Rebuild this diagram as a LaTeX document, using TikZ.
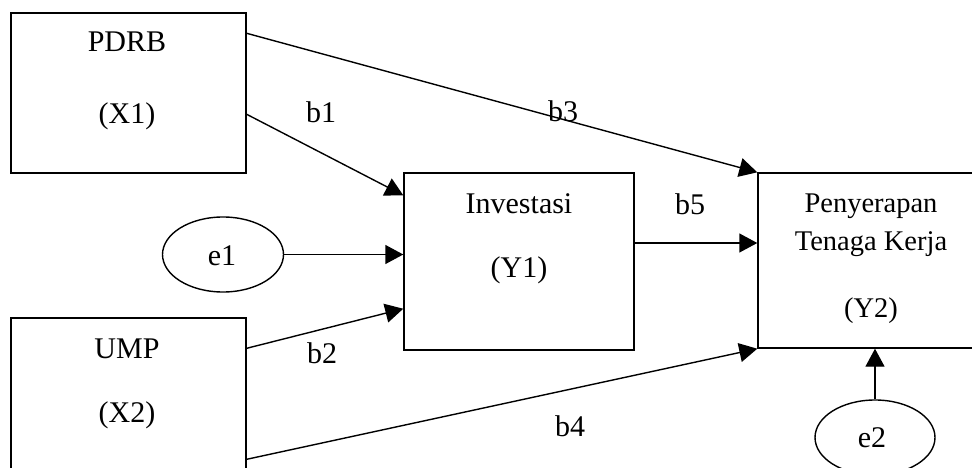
\documentclass[tikz,border=0pt]{standalone}
\usepackage{fontspec}
\setmainfont{Liberation Serif}
\usetikzlibrary{arrows.meta,shapes.geometric,calc}
\begin{document}
\begin{tikzpicture}[x=1pt,y=-1pt,
  box/.style={draw,line width=1.4pt,rectangle,inner sep=0pt},
  oval/.style={draw,line width=1.4pt,ellipse,inner sep=0pt},
  txt/.style={anchor=base,inner sep=0pt,font=\fontsize{30}{36}\selectfont},
  stxt/.style={anchor=base,inner sep=0pt,font=\fontsize{28.5}{34}\selectfont},
  arr/.style={line width=1.4pt,-{Triangle[length=18pt,width=19pt]}}]
\useasboundingbox (0,0) rectangle (972,468);
\clip (0,0) rectangle (972,468);
% boxes
\node[box,minimum width=235pt,minimum height=160pt] (x1) at (128.5,93) {};
\node[box,minimum width=235pt,minimum height=160pt] (x2) at (128.5,398) {};
\node[box,minimum width=230pt,minimum height=177pt] (y1) at (519,261.5) {};
\node[box,minimum width=240pt,minimum height=175pt] (y2) at (878,260.5) {};
\node[oval,minimum width=121pt,minimum height=75pt] (e1) at (223,254.5) {};
\node[oval,minimum width=120pt,minimum height=75pt] (e2) at (875,437.5) {};
% texts
\node[txt] (tx1a) at (127,52) {PDRB};
\node[txt] (tx1b) at (127,124) {(X1)};
\node[txt] (tx2a) at (127,358) {UMP};
\node[txt] (tx2b) at (127,422) {(X2)};
\node[txt] (ty1a) at (519,213) {Investasi};
\node[txt] (ty1b) at (519,277) {(Y1)};
\node[stxt] (ty2a) at (871,212) {Penyerapan};
\node[stxt] (ty2b) at (871,250) {Tenaga Kerja};
\node[stxt] (ty2c) at (871,317) {(Y2)};
\node[txt] (te1) at (222,265) {e1};
\node[txt] (te2) at (872,447) {e2};
\node[txt] (lb1) at (321,123) {b1};
\node[txt] (lb2) at (322,363) {b2};
\node[txt] (lb3) at (563,122) {b3};
\node[txt] (lb4) at (570,436) {b4};
\node[txt] (lb5) at (690,214) {b5};
% connectors
\draw[arr] ($(x1.north east)+(0,21)$) -- (y2.north west);
\draw[arr] ($(x1.north east)+(0,102)$) -- ($(y1.north west)+(0,23)$);
\draw[arr] (e1.east) -- (e1.east -| y1.west);
\draw[arr] ($(x2.north east)+(0,31)$) -- ($(y1.south west)+(0,-42)$);
\draw[arr] ($(x2.north east)+(0,142)$) -- (y2.south west);
\coordinate (c5) at ($(y1.east)+(0,-18.5)$);
\draw[arr] (c5) -- (c5 -| y2.west);
\draw[arr] (e2.north) -- (e2.north |- y2.south);
\end{tikzpicture}
\end{document}
